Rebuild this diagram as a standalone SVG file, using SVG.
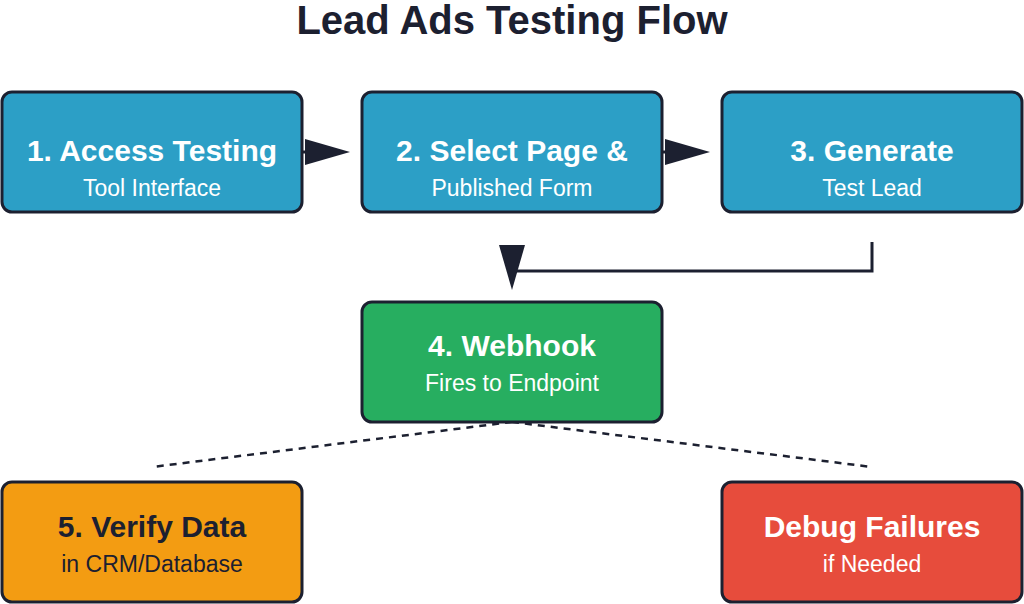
<svg xmlns="http://www.w3.org/2000/svg" width="1024" height="604" viewBox="0 0 1024 604">
<style>
.box{stroke:#1c2030;stroke-width:3}
.t{font-family:"Liberation Sans",Arial,sans-serif;fill:#fff;text-anchor:middle}
.b{font-size:30px;font-weight:bold}
.s{font-size:23px}
.ln{stroke:#1c2030;stroke-width:3;fill:none}
.dash{stroke:#1c2030;stroke-width:2.5;stroke-dasharray:7,6;fill:none}
</style>
<rect width="1024" height="604" fill="#fff"/>
<text x="512" y="34" font-family="Liberation Sans,Arial,sans-serif" font-size="40" font-weight="bold" fill="#1c2030" text-anchor="middle">Lead Ads Testing Flow</text>
<g id="connectors">
<line class="ln" x1="302" y1="152" x2="310" y2="152"/>
<polygon points="305,139 350,152 305,165" fill="#1c2030"/>
<line class="ln" x1="662" y1="152" x2="670" y2="152"/>
<polygon points="665,139 710,152 665,165" fill="#1c2030"/>
<polyline class="ln" points="872,242 872,271 512,271"/>
<polygon points="499,245 525,245 512,290" fill="#1c2030"/>
<line class="dash" x1="512" y1="422" x2="152" y2="467"/>
<line class="dash" x1="512" y1="422" x2="872" y2="467"/>
</g>
<g id="n1"><rect class="box" x="2" y="92" width="300" height="120" rx="10" fill="#2c9fc6"/><text class="t b" x="152" y="161">1. Access Testing</text><text class="t s" x="152" y="196">Tool Interface</text></g>
<g id="n2"><rect class="box" x="362" y="92" width="300" height="120" rx="10" fill="#2c9fc6"/><text class="t b" x="512" y="161">2. Select Page &amp;</text><text class="t s" x="512" y="196">Published Form</text></g>
<g id="n3"><rect class="box" x="722" y="92" width="300" height="120" rx="10" fill="#2c9fc6"/><text class="t b" x="872" y="161">3. Generate</text><text class="t s" x="872" y="196">Test Lead</text></g>
<g id="n4"><rect class="box" x="362" y="302" width="300" height="120" rx="10" fill="#27ae60"/><text class="t b" x="512" y="356">4. Webhook</text><text class="t s" x="512" y="391">Fires to Endpoint</text></g>
<g id="n5"><rect class="box" x="2" y="482" width="300" height="120" rx="10" fill="#f39c12"/><text class="t b" x="152" y="537" fill="#1c2030" style="fill:#1c2030">5. Verify Data</text><text class="t s" x="152" y="572" style="fill:#1c2030">in CRM/Database</text></g>
<g id="n6"><rect class="box" x="722" y="482" width="300" height="120" rx="10" fill="#e74c3c"/><text class="t b" x="872" y="537">Debug Failures</text><text class="t s" x="872" y="572">if Needed</text></g>
</svg>
